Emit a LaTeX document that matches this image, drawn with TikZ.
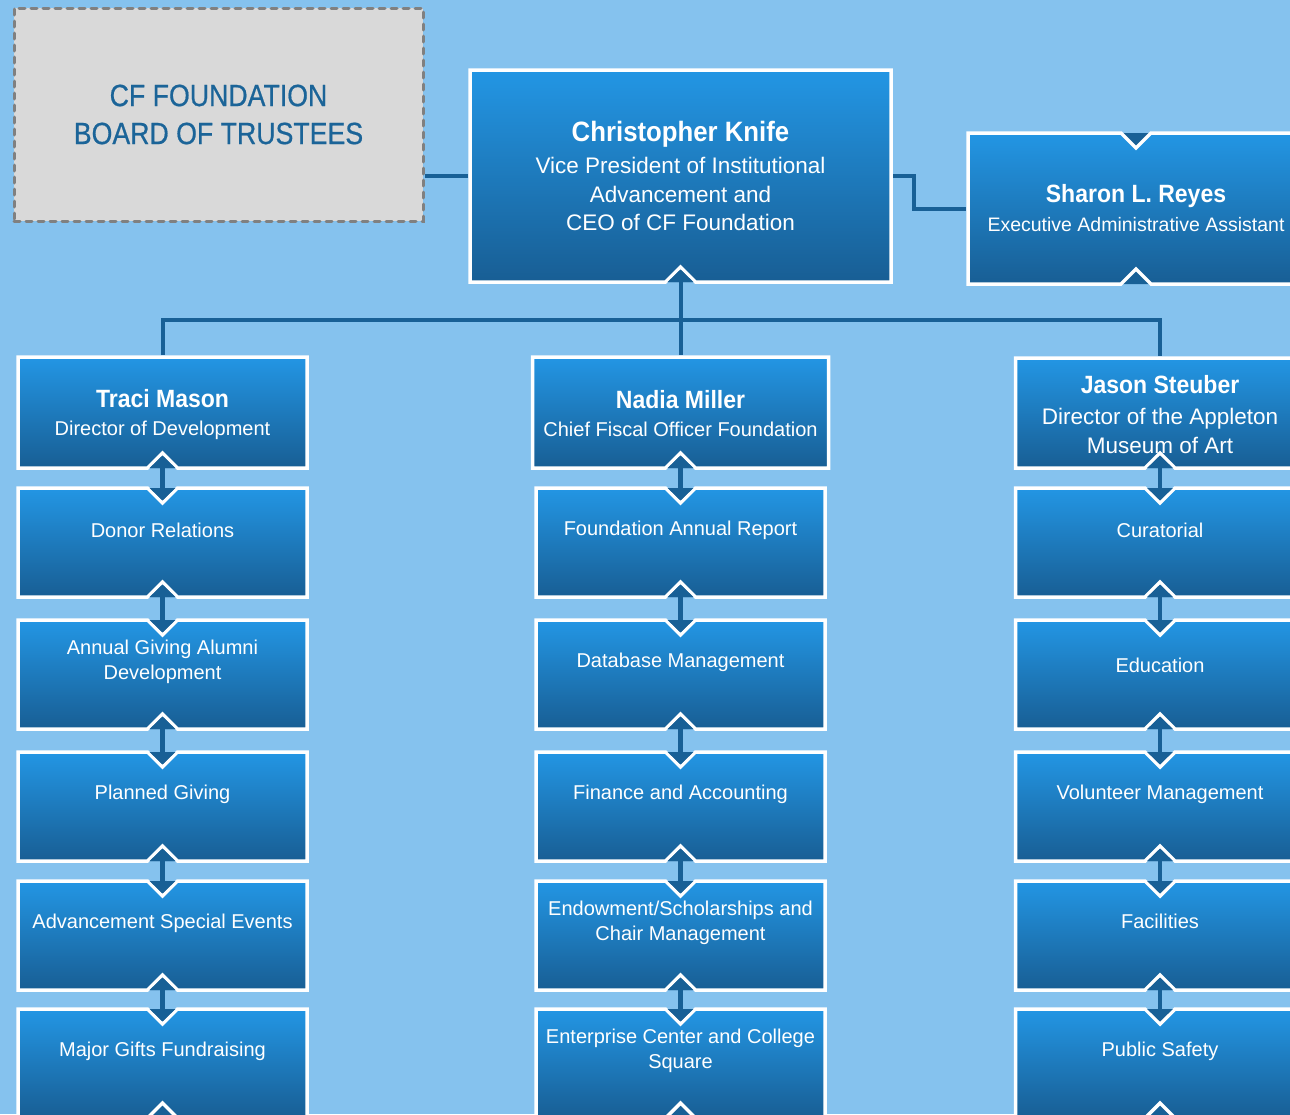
\documentclass[tikz,border=0pt]{standalone}
\usepackage{fontspec}
\setmainfont{Liberation Sans}
\newfontfamily\condfont[FakeStretch=0.87,FakeBold=0.6]{Liberation Sans}
\newfontfamily\namefont[FakeStretch=0.92]{Liberation Sans}
\usetikzlibrary{arrows.meta,calc}
\definecolor{bg}{RGB}{133,194,238}
\definecolor{btop}{RGB}{35,150,228}
\definecolor{bbot}{RGB}{24,94,148}
\definecolor{conn}{RGB}{24,96,150}
\definecolor{boardfill}{RGB}{217,217,217}
\definecolor{boardline}{RGB}{128,128,128}
\definecolor{boardtext}{RGB}{27,100,152}
\tikzset{
  boxnode/.style={rectangle,draw=none,inner sep=0pt,outer sep=0pt},
  boxline/.style={draw=white,line width=3.5pt,top color=btop,bottom color=bbot,line join=miter},
  subtxt/.style={text=white,align=center,inner sep=0pt,font=\fontsize{20}{25.5}\selectfont},
  headtxt/.style={text=white,align=center,inner sep=0pt},
  vconn/.style={draw=conn,line width=4.5pt,{Triangle[width=25pt,length=12.5pt]}-{Triangle[width=25pt,length=12.5pt]}},
  busline/.style={draw=conn,line width=4pt},
  boardbox/.style={rectangle,fill=boardfill,draw=boardline,line width=3pt,dash pattern=on 6pt off 6pt,line cap=round,
    minimum width=409pt,minimum height=213pt,inner sep=0pt,outer sep=0pt,align=center,text=boardtext,
    font=\condfont\fontsize{30.7}{38}\selectfont}
}
% name, cx, top, width, height, top notch depth, bottom notch depth
\newcommand\orgbox[7]{%
  \node[boxnode,minimum width=#4pt,minimum height=#5pt] (#1) at (#2,{#3+#5/2}) {};
  \fill[conn] ([xshift=-15pt]#1.north) -- ([yshift=-#6pt]#1.north) -- ([xshift=15pt]#1.north) -- cycle;
  \fill[conn] ([xshift=-15pt]#1.south) -- ([yshift=#7pt]#1.south) -- ([xshift=15pt]#1.south) -- cycle;
  \draw[boxline] (#1.north west) -- ([xshift=-15pt]#1.north) -- ([yshift=-#6pt]#1.north) -- ([xshift=15pt]#1.north)
    -- (#1.north east) -- (#1.south east) -- ([xshift=15pt]#1.south) -- ([yshift=#7pt]#1.south)
    -- ([xshift=-15pt]#1.south) -- (#1.south west) -- cycle;
}
\begin{document}
\begin{tikzpicture}[x=1pt,y=-1pt]
\useasboundingbox (0,0) rectangle (1290,1114);
\clip (0,0) rectangle (1290,1114);
\fill[bg] (0,0) rectangle (1290,1114);

% board
\node[boardbox] (board) at (218.5,114.5) {CF FOUNDATION\\BOARD OF TRUSTEES};

% top boxes
\orgbox{ceo}{680.5}{70}{421}{212}{0}{15}
\node[headtxt,font=\fontsize{22.5}{28.5}\selectfont] (ceot) at (ceo.center)
  {{\namefont\bfseries\fontsize{28}{32}\selectfont Christopher Knife}\\[3.5pt]Vice President of Institutional\\Advancement and\\CEO of CF Foundation};
\orgbox{sharon}{1136}{133}{336}{151}{15}{15}
\node[headtxt,font=\fontsize{19.5}{29}\selectfont] (sharont) at (sharon.center)
  {{\namefont\bfseries\fontsize{25}{28}\selectfont Sharon L. Reyes}\\Executive Administrative Assistant};

% heads
\orgbox{tr}{162.5}{357}{289}{111}{0}{15}
\node[headtxt,font=\fontsize{20}{28}\selectfont] (trt) at ([yshift=-2.5pt]tr.center)
  {{\namefont\bfseries\fontsize{25}{28}\selectfont Traci Mason}\\Director of Development};
\orgbox{nd}{680.5}{357}{296}{111}{0}{15}
\node[headtxt,font=\fontsize{20}{28}\selectfont] (ndt) at ([yshift=-1pt]nd.center)
  {{\namefont\bfseries\fontsize{25}{28}\selectfont Nadia Miller}\\Chief Fiscal Officer Foundation};
\orgbox{js}{1160}{358}{289}{110}{0}{15}
\node[headtxt,font=\fontsize{22.5}{29}\selectfont] (jst) at ([yshift=-1.5pt]js.center)
  {{\namefont\bfseries\fontsize{25}{28}\selectfont Jason Steuber}\\[1.5pt]Director of the Appleton\\Museum of Art};

% left column
\orgbox{l1}{162.5}{488}{289}{109}{15}{15}
\orgbox{l2}{162.5}{620}{289}{109}{15}{15}
\orgbox{l3}{162.5}{752}{289}{109}{15}{15}
\orgbox{l4}{162.5}{881}{289}{109}{15}{15}
\orgbox{l5}{162.5}{1009}{289}{109}{15}{15}
\node[subtxt] (l1t) at ([yshift=12.5pt]l1.center) {Donor Relations};
\node[subtxt] (l2t) at ([yshift=12.5pt]l2.center) {Annual Giving Alumni\\Development};
\node[subtxt] (l3t) at ([yshift=12.5pt]l3.center) {Planned Giving};
\node[subtxt] (l4t) at ([yshift=12.5pt]l4.center) {Advancement Special Events};
\node[subtxt] (l5t) at ([yshift=12.5pt]l5.center) {Major Gifts Fundraising};

% middle column
\orgbox{m1}{680.5}{488}{289}{109}{15}{15}
\orgbox{m2}{680.5}{620}{289}{109}{15}{15}
\orgbox{m3}{680.5}{752}{289}{109}{15}{15}
\orgbox{m4}{680.5}{881}{289}{109}{15}{15}
\orgbox{m5}{680.5}{1009}{289}{109}{15}{15}
\node[subtxt] (m1t) at ([yshift=12.5pt]m1.center) {Foundation Annual Report};
\node[subtxt] (m2t) at ([yshift=12.5pt]m2.center) {Database Management};
\node[subtxt] (m3t) at ([yshift=12.5pt]m3.center) {Finance and Accounting};
\node[subtxt] (m4t) at ([yshift=12.5pt]m4.center) {Endowment/Scholarships and\\Chair Management};
\node[subtxt] (m5t) at ([yshift=12.5pt]m5.center) {Enterprise Center and College\\Square};

% right column
\orgbox{r1}{1160}{488}{289}{109}{15}{15}
\orgbox{r2}{1160}{620}{289}{109}{15}{15}
\orgbox{r3}{1160}{752}{289}{109}{15}{15}
\orgbox{r4}{1160}{881}{289}{109}{15}{15}
\orgbox{r5}{1160}{1009}{289}{109}{15}{15}
\node[subtxt] (r1t) at ([yshift=12.5pt]r1.center) {Curatorial};
\node[subtxt] (r2t) at ([yshift=9pt]r2.center) {Education};
\node[subtxt] (r3t) at ([yshift=12.5pt]r3.center) {Volunteer Management};
\node[subtxt] (r4t) at ([yshift=14pt]r4.center) {Facilities};
\node[subtxt] (r5t) at ([yshift=12.5pt]r5.center) {Public Safety};

% connectors
\draw[busline] ([xshift=-2pt]ceo.west) -- ([xshift=1.5pt]board.east |- ceo.west);
\draw[busline] ([xshift=2pt]ceo.east) -- ++(21,0) |- ([xshift=-2pt]sharon.west);
\coordinate (bus) at (680.5,320);
\draw[busline] ([yshift=2pt]tr.north) |- (bus) -| ([yshift=2pt]js.north);
\draw[busline,{Triangle[width=25pt,length=12.5pt]}-] ([yshift=12.5pt]ceo.south) -- ([yshift=2pt]nd.north);
\foreach \a/\b in {tr/l1,l1/l2,l2/l3,l3/l4,l4/l5,nd/m1,m1/m2,m2/m3,m3/m4,m4/m5,js/r1,r1/r2,r2/r3,r3/r4,r4/r5}
  \draw[vconn] ([yshift=12.5pt]\a.south) -- ([yshift=-12.5pt]\b.north);
\end{tikzpicture}
\end{document}
